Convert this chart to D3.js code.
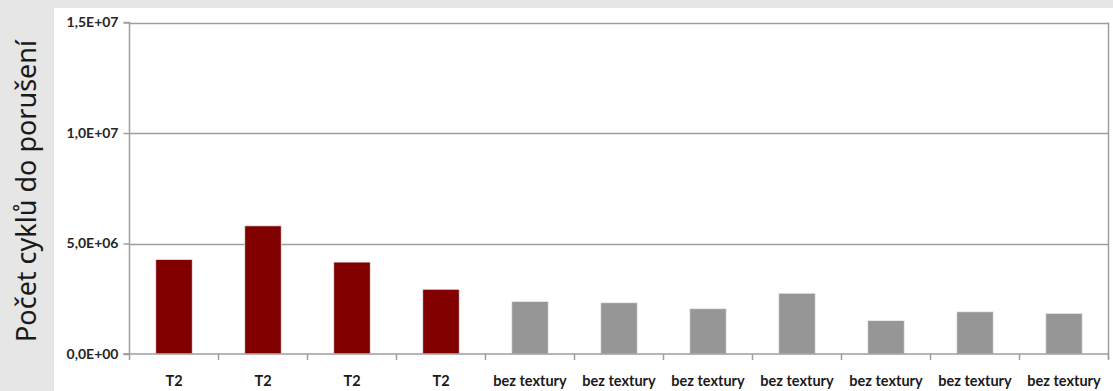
<!DOCTYPE html>
<html>
<head>
<meta charset="utf-8">
<script src="https://cdn.jsdelivr.net/npm/d3@7"></script>
<style>
  html, body { margin: 0; padding: 0; background: #e6e6e6; }
  svg { display: block; }
</style>
</head>
<body>
<svg id="chart" width="1113" height="391"></svg>
<script>
// Number of cycles to failure per specimen
const categories = ["T2", "T2", "T2", "T2", "bez textury", "bez textury", "bez textury",
                    "bez textury", "bez textury", "bez textury", "bez textury"];
const cycles = [4.28e6, 5.80e6, 4.16e6, 2.93e6, 2.38e6, 2.32e6, 2.05e6, 2.75e6, 1.51e6, 1.91e6, 1.84e6];
const groups = ["T2", "T2", "T2", "T2", "none", "none", "none", "none", "none", "none", "none"];
const yTicks = [0, 5e6, 1e7, 1.5e7];
const yTickLabels = ["0,0E+00", "5,0E+06", "1,0E+07", "1,5E+07"];
const yTitle = "Počet cyklů do porušení";

const W = 1113, H = 391;
const svg = d3.select("#chart");

// white chart panel
svg.append("rect").attr("x", 54).attr("y", 8).attr("width", W - 54).attr("height", H - 8).attr("fill", "#ffffff");

const plotLeft = 129.5, plotRight = 1108.5, plotTop = 22.5, plotBottom = 354;

const x = d3.scaleBand().domain(d3.range(categories.length)).range([plotLeft, plotRight]).paddingInner(0.59).paddingOuter(0.295);
const xb = d3.scaleBand().domain(d3.range(categories.length)).range([plotLeft, plotRight]).padding(0);
const y = d3.scaleLinear().domain([0, 1.5e7]).range([plotBottom, plotTop]);
const color = d3.scaleOrdinal().domain(["T2", "none"]).range(["#800000", "#969696"]);

// gridlines
svg.append("g").selectAll("line").data(yTicks.slice(1)).join("line")
  .attr("x1", plotLeft).attr("x2", plotRight)
  .attr("y1", d => Math.round(y(d)) + 0.5).attr("y2", d => Math.round(y(d)) + 0.5)
  .attr("stroke", "#9e9e9e").attr("stroke-width", 1.5);

// right border of plot area
svg.append("line").attr("x1", plotRight).attr("x2", plotRight).attr("y1", plotTop).attr("y2", plotBottom + 5)
  .attr("stroke", "#9e9e9e").attr("stroke-width", 1.5);

// bars
svg.append("g").selectAll("rect").data(cycles).join("rect")
  .attr("x", (d, i) => x(i))
  .attr("width", x.bandwidth())
  .attr("y", d => y(d))
  .attr("height", d => plotBottom - y(d))
  .attr("fill", (d, i) => color(groups[i]))
  .attr("stroke", "#eeeeee").attr("stroke-width", 0.8);

// y axis
const yAxis = d3.axisLeft(y).tickValues(yTicks).tickFormat((d, i) => yTickLabels[i]).tickSize(6).tickPadding(5);
const gy = svg.append("g").attr("transform", `translate(${plotLeft},0)`).call(yAxis);
gy.select(".domain").attr("stroke", "#9e9e9e").attr("stroke-width", 1.5).attr("d", `M-6,${plotTop}H0V${plotBottom}H-6`);
gy.selectAll(".tick line").attr("stroke", "#9e9e9e").attr("stroke-width", 1.5);
gy.selectAll(".tick text").attr("font-family", "Lato, 'Open Sans', sans-serif").attr("font-weight", "bold")
  .attr("font-size", 14).attr("fill", "#262626");

// x axis with ticks at category boundaries
const gx = svg.append("g");
gx.append("line").attr("x1", plotLeft - 6).attr("x2", plotRight).attr("y1", plotBottom).attr("y2", plotBottom)
  .attr("stroke", "#9e9e9e").attr("stroke-width", 1.5);
gx.selectAll("line.tk").data(d3.range(categories.length + 1)).join("line").attr("class", "tk")
  .attr("x1", i => i < categories.length ? xb(i) : plotRight)
  .attr("x2", i => i < categories.length ? xb(i) : plotRight)
  .attr("y1", plotBottom).attr("y2", plotBottom + 6)
  .attr("stroke", "#9e9e9e").attr("stroke-width", 1.5);
gx.selectAll("text").data(categories).join("text")
  .attr("x", (d, i) => xb(i) + xb.bandwidth() / 2)
  .attr("y", 386)
  .attr("text-anchor", "middle")
  .attr("font-family", "Lato, 'Open Sans', sans-serif").attr("font-weight", "bold")
  .attr("font-size", 14.5).attr("fill", "#1a1a1a")
  .text(d => d);

// y axis title
svg.append("text")
  .attr("transform", `translate(36,${(22 + 350) / 2 + 5}) rotate(-90)`)
  .attr("text-anchor", "middle")
  .attr("font-family", "'Noto Sans', 'Open Sans', sans-serif")
  .attr("font-size", 27).attr("fill", "#1a1a1a")
  .text(yTitle);
</script>
</body>
</html>
